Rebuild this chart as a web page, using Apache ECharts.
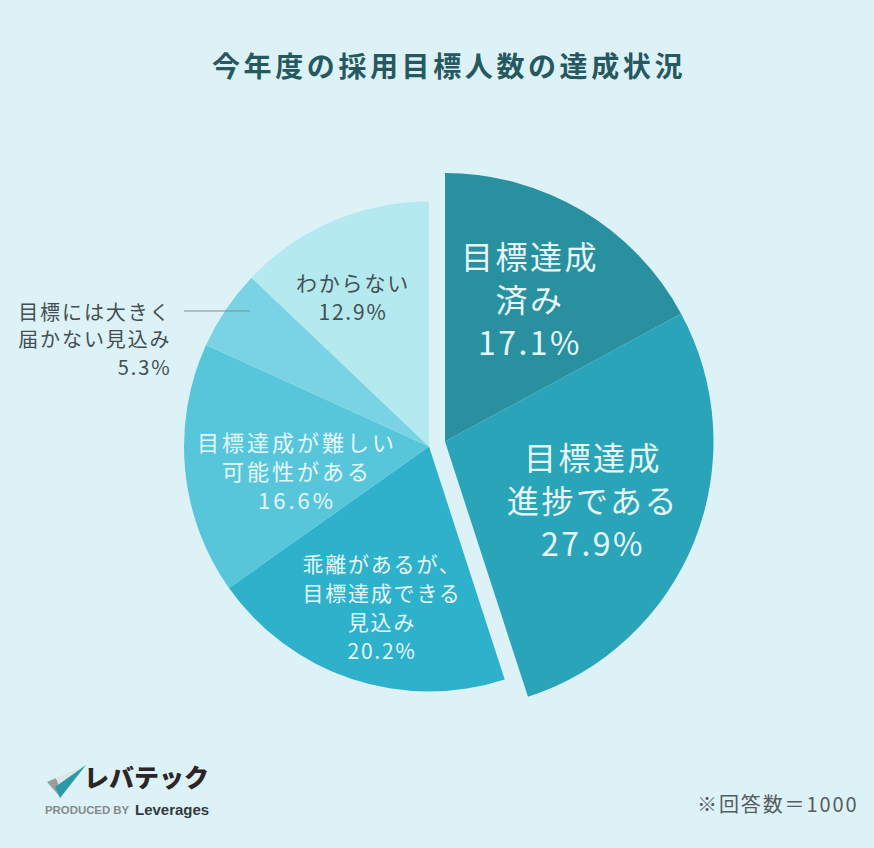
<!DOCTYPE html>
<html lang="ja">
<head>
<meta charset="utf-8">
<style>
html,body{margin:0;padding:0;background:#dcf2f7;}
#c{width:874px;height:848px;}
text[style*="28px"]{letter-spacing:3.6px;}
text[style*="32px"]{letter-spacing:2.5px;}
text[style*="22px"]{letter-spacing:3px;}
text[style*="21px"]{letter-spacing:1.8px;}
text[style*="20px"]{letter-spacing:1.9px;}
</style>
</head>
<body>
<div id="c"></div>
<script src="https://cdn.jsdelivr.net/npm/echarts@6/dist/echarts.min.js"></script>
<script>
const titleText = '今年度の採用目標人数の達成状況';
const noteText = '※回答数＝1000';
const categories = ['目標達成\n済み', '目標達成\n進捗である', '乖離があるが、\n目標達成できる\n見込み', '目標達成が難しい\n可能性がある', '目標には大きく\n届かない見込み', 'わからない'];
const values = [17.1, 27.9, 20.2, 16.6, 5.3, 12.9];
const emphasised = [true, true, false, false, false, false];
const colors = ['#29909f', '#2aa4b8', '#2eb1ca', '#58c6da', '#7ad3e4', '#b3e9ef'];
const labelSpots = [[530, 298], [593, 499], [382, 606], [297, 470], [171.5, 338.5], [353, 296.5]];
const labelFontSizes = [32, 32, 21, 22, 20, 21];
const labelLineHeights = [43, 43, 29, 29, 27.5, 29];

const FONT = '"Noto Sans CJK JP","Noto Sans",sans-serif';
const sum = a => a.reduce((s, v) => s + v, 0);
const bigSum = sum(values.filter((_, i) => emphasised[i]));
const restSum = sum(values.filter((_, i) => !emphasised[i]));
const hidden = {
  itemStyle: {color: 'transparent'}, label: {show: false}, labelLine: {show: false},
  emphasis: {disabled: true}, tooltip: {show: false}
};
function item(i) {
  const outside = i === 4;
  return {
    name: categories[i], value: values[i],
    itemStyle: {color: colors[i]},
    label: {
      show: true, position: 'inside',
      formatter: categories[i] + '\n' + values[i].toFixed(1) + '%',
      fontFamily: FONT, fontWeight: 400,
      fontSize: labelFontSizes[i],
      lineHeight: labelLineHeights[i],
      color: (outside || i === 5) ? '#454f52' : '#e6f7fa',
      align: outside ? 'right' : 'center'
    },
    labelLine: {show: false}
  };
}
const layoutFor = offset => p => {
  const i = p.dataIndex - offset;
  const s = labelSpots[i];
  if (!s) return {};
  return {x: s[0], y: s[1], align: i === 4 ? 'right' : 'center', verticalAlign: 'middle'};
};
const bigData = values.map((_, i) => i).filter(i => emphasised[i]).map(item);
const restData = values.map((_, i) => i).filter(i => !emphasised[i]).map(item);

const option = {
  backgroundColor: '#dcf2f7',
  animation: false,
  title: {
    text: titleText, left: 444, top: 46, textAlign: 'center',
    textStyle: {fontFamily: FONT, fontSize: 28, fontWeight: 700, color: '#26595f'}
  },
  series: [
    {
      type: 'pie', center: [445, 441.5], radius: [0, 268.5], startAngle: 90, clockwise: true,
      silent: true, avoidLabelOverlap: false,
      labelLayout: p => p.dataIndex < bigData.length ? layoutFor(0)(p) : {},
      data: [...bigData, {name: '', value: restSum, ...hidden}]
    },
    {
      type: 'pie', center: [429, 446.5], radius: [0, 245], startAngle: 90, clockwise: true,
      silent: true, avoidLabelOverlap: false,
      labelLayout: p => p.dataIndex >= 1 ? layoutFor(1 - bigData.length)(p) : {},
      data: [{name: '', value: bigSum, ...hidden}, ...restData]
    }
  ],
  graphic: [
    {type: 'line', z: 50, shape: {x1: 184, y1: 311, x2: 250, y2: 311}, style: {stroke: '#7d9097', lineWidth: 1.2}},
    {type: 'text', left: 697, top: 793, style: {text: noteText, fontFamily: FONT, fontSize: 20, fill: '#555b5e'}},
    {type: 'polygon', shape: {points: [[47, 782], [56, 778], [60, 788], [61, 798]]}, style: {fill: '#9a9e9f'}},
    {type: 'polygon', shape: {points: [[56, 778], [86, 765], [60, 788]]}, style: {fill: '#dfe6e6'}},
    {type: 'polygon', shape: {points: [[86, 765], [60, 798], [55, 787]]}, style: {fill: '#2a9aa8'}},
    {type: 'text', left: 84, top: 763, style: {text: 'レバテック', fontFamily: FONT, fontSize: 25, fontWeight: 900, fill: '#2d2425'}},
    {type: 'text', left: 45, top: 804, style: {text: 'PRODUCED BY', fontFamily: '"Liberation Sans",sans-serif', fontSize: 11.4, fontWeight: 700, fill: '#85898b'}},
    {type: 'text', left: 135, top: 802, style: {text: 'Leverages', fontFamily: '"Liberation Sans",sans-serif', fontSize: 15, fontWeight: 700, fill: '#34393c'}}
  ]
};
const chart = echarts.init(document.getElementById('c'), null, {renderer: 'svg'});
chart.setOption(option);
</script>
</body>
</html>
